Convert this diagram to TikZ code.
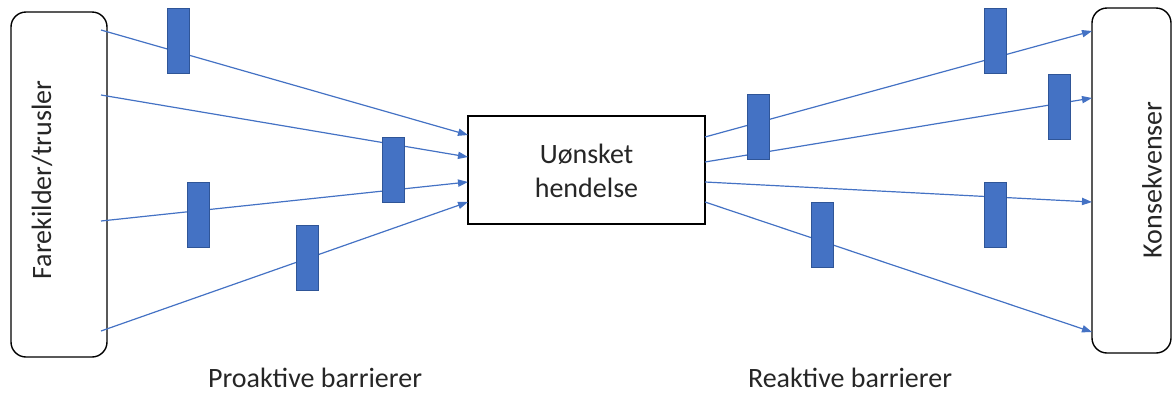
\documentclass[tikz,border=0pt]{standalone}
\usepackage{fontspec}
\setmainfont{Carlito}
\usetikzlibrary{arrows.meta,calc}
\definecolor{barblue}{HTML}{4472C4}
\definecolor{baredge}{HTML}{2F5597}
\definecolor{txtgrey}{HTML}{262626}

\begin{document}
\begin{tikzpicture}[x=0.5pt,y=-0.5pt,
  box/.style={draw=black, line width=0.7pt, fill=white, inner sep=0pt},
  roundbox/.style={box, rounded corners=7.5pt},
  barrier/.style={draw=baredge, fill=barblue, line width=0.5pt,
                  minimum width=11pt, minimum height=32.5pt, inner sep=0pt},
  flow/.style={draw=barblue, line width=0.6pt,
               -{Triangle[length=5pt,width=3.6pt]}},
  lbl/.style={font=\fontsize{14}{17}\selectfont, text=txtgrey, inner sep=0pt}]

\useasboundingbox (0,0) rectangle (1173,392);

% main boxes
\node[roundbox, minimum width=48pt, minimum height=172.5pt] (haz) at (59,184.5) {};
\node[lbl, rotate=90] (hazlbl) at (42,180) {Farekilder/trusler};
\node[box, minimum width=118.5pt, minimum height=54pt] (event) at (586.5,170) {};
\node[lbl, align=center] (eventlbl) at (586.5,171) {Uønsket\\hendelse};
\node[roundbox, minimum width=39.5pt, minimum height=172.5pt] (cons) at (1131.5,180.5) {};
\node[lbl, rotate=90] (conslbl) at (1152,180) {Konsekvenser};

% line ends
\coordinate (s1) at (101,30);
\coordinate (s2) at (101,95);
\coordinate (s3) at (101,221);
\coordinate (s4) at (101,331);
\coordinate (i1) at (468,135);
\coordinate (i2) at (468,157);
\coordinate (i3) at (468,182);
\coordinate (i4) at (468,202);
\coordinate (o1) at (705,137);
\coordinate (o2) at (705,162);
\coordinate (o3) at (705,182);
\coordinate (o4) at (705,202);
\coordinate (c1) at (1092,31);
\coordinate (c2) at (1092,98);
\coordinate (c3) at (1092,202);
\coordinate (c4) at (1092,332);

% threat paths towards the event
\draw[flow] (s1) -- (i1);
\draw[flow] (s2) -- (i2);
\draw[flow] (s3) -- (i3);
\draw[flow] (s4) -- (i4);

% consequence paths
\draw[flow] (o1) -- (c1);
\draw[flow] (o2) -- (c2);
\draw[flow] (o3) -- (c3);
\draw[flow] (o4) -- (c4);

% proactive barriers
\node[barrier] (p1) at (178,40.5) {};
\node[barrier] (p2) at (393,169.5) {};
\node[barrier] (p3) at (198.5,214.5) {};
\node[barrier] (p4) at (307,257.5) {};

% reactive barriers
\node[barrier] (r1) at (758,126.5) {};
\node[barrier] (r2) at (995,40.5) {};
\node[barrier] (r3) at (1059,106.5) {};
\node[barrier] (r4) at (995,214.5) {};
\node[barrier] (r5) at (822,234.5) {};

% captions
\node[lbl, anchor=base] (pro) at (315,387) {Proaktive barrierer};
\node[lbl, anchor=base] (rea) at (850,387) {Reaktive barrierer};
\end{tikzpicture}
\end{document}
